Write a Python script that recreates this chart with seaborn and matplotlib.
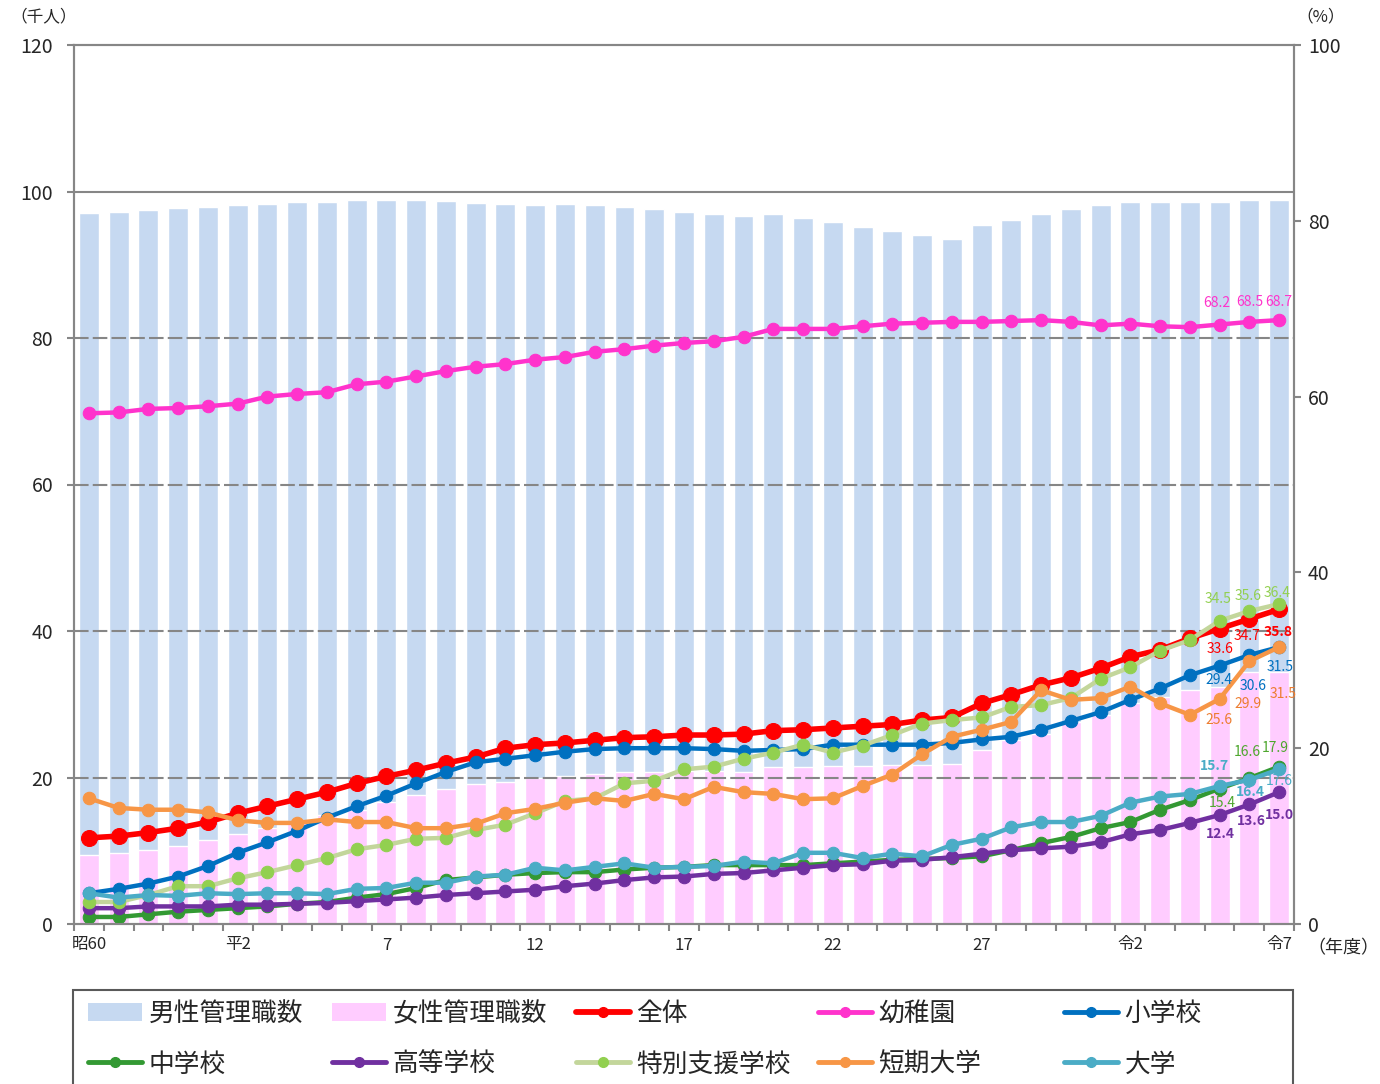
import numpy as np
import pandas as pd
import matplotlib
matplotlib.use('Agg')
import matplotlib.pyplot as plt
import seaborn as sns
from matplotlib.patches import Patch, Rectangle
from matplotlib.lines import Line2D

# 昭和60年度〜令和7年度 (41 years)
tick_pos = [0, 5, 10, 15, 20, 25, 30, 35, 40]
tick_labels = ['昭60', '平2', '7', '12', '17', '22', '27', '令2', '令7']

# managers, thousand people (left axis)
total = [97.1, 97.2, 97.5, 97.7, 97.9, 98.2, 98.3, 98.5, 98.6, 98.8, 98.8, 98.8, 98.7, 98.4,
         98.3, 98.2, 98.3, 98.2, 97.9, 97.6, 97.2, 96.9, 96.7, 96.9, 96.4, 95.8, 95.2, 94.6,
         94.1, 93.5, 95.4, 96.1, 96.9, 97.6, 98.2, 98.6, 98.6, 98.6, 98.6, 98.8, 98.8]
female = [9.4, 9.7, 10.1, 10.7, 11.4, 12.3, 13.1, 14.0, 14.9, 15.6, 16.7, 17.6, 18.4, 19.1,
          19.4, 19.9, 20.2, 20.5, 20.7, 20.8, 20.9, 20.9, 20.8, 21.5, 21.5, 21.6, 21.6, 21.7,
          21.7, 21.9, 23.8, 25.1, 26.0, 27.6, 28.5, 30.2, 31.0, 32.0, 32.3, 34.4, 34.4]

# female share of managers, % (right axis)
zentai = [9.8, 10.0, 10.4, 10.9, 11.6, 12.6, 13.4, 14.2, 15.0, 16.0, 16.8, 17.5, 18.3, 19.0,
          20.0, 20.4, 20.6, 20.9, 21.2, 21.3, 21.5, 21.5, 21.6, 22.0, 22.1, 22.3, 22.5, 22.7,
          23.2, 23.5, 25.1, 26.1, 27.2, 28.0, 29.1, 30.4, 31.2, 32.5, 33.6, 34.7, 35.8]
youchien = [58.1, 58.2, 58.6, 58.7, 58.9, 59.2, 60.0, 60.3, 60.5, 61.4, 61.7, 62.3, 62.9, 63.4,
            63.7, 64.2, 64.5, 65.1, 65.4, 65.8, 66.1, 66.3, 66.8, 67.7, 67.7, 67.7, 68.0, 68.3,
            68.4, 68.5, 68.5, 68.6, 68.7, 68.5, 68.1, 68.3, 68.0, 67.9, 68.2, 68.5, 68.7]
shougakkou = [3.5, 4.0, 4.6, 5.4, 6.6, 8.1, 9.3, 10.6, 12.1, 13.4, 14.6, 16.0, 17.3, 18.4,
              18.8, 19.2, 19.6, 19.9, 20.0, 20.0, 20.0, 19.9, 19.7, 19.8, 19.9, 20.4, 20.4, 20.4,
              20.4, 20.6, 21.0, 21.3, 22.1, 23.1, 24.1, 25.5, 26.8, 28.3, 29.4, 30.6, 31.5]
chuugakkou = [0.8, 0.8, 1.1, 1.4, 1.6, 1.8, 2.0, 2.3, 2.5, 3.0, 3.4, 4.1, 5.0, 5.3,
              5.6, 5.8, 5.9, 5.9, 6.2, 6.4, 6.5, 6.7, 6.7, 6.7, 6.7, 6.9, 7.1, 7.3,
              7.4, 7.5, 7.7, 8.4, 9.2, 9.9, 10.9, 11.6, 13.0, 14.1, 15.4, 16.6, 17.9]
koutougakkou = [1.8, 1.8, 2.0, 2.0, 2.0, 2.2, 2.2, 2.3, 2.4, 2.6, 2.8, 3.0, 3.3, 3.5,
                3.7, 3.9, 4.3, 4.6, 5.0, 5.3, 5.4, 5.7, 5.8, 6.1, 6.4, 6.7, 6.8, 7.2,
                7.3, 7.6, 8.0, 8.4, 8.6, 8.8, 9.3, 10.2, 10.7, 11.5, 12.4, 13.6, 15.0]
tokubetsu = [2.5, 2.5, 3.3, 4.3, 4.3, 5.2, 5.9, 6.7, 7.5, 8.5, 9.0, 9.7, 9.8, 10.7,
             11.3, 12.6, 14.0, 14.3, 16.0, 16.3, 17.6, 17.9, 18.8, 19.5, 20.4, 19.5, 20.3, 21.5,
             22.8, 23.2, 23.5, 24.7, 24.9, 25.7, 27.9, 29.2, 31.1, 32.3, 34.5, 35.6, 36.4]
tanki = [14.3, 13.2, 13.0, 13.0, 12.7, 11.8, 11.5, 11.5, 11.9, 11.6, 11.6, 10.9, 10.9, 11.4,
         12.6, 13.1, 13.8, 14.3, 14.0, 14.8, 14.2, 15.6, 15.0, 14.8, 14.2, 14.3, 15.7, 17.0,
         19.3, 21.3, 22.1, 23.0, 26.6, 25.5, 25.7, 27.0, 25.1, 23.8, 25.6, 29.9, 31.5]
daigaku = [3.5, 3.0, 3.3, 3.2, 3.5, 3.4, 3.5, 3.5, 3.4, 4.0, 4.1, 4.7, 4.7, 5.4,
           5.6, 6.4, 6.1, 6.5, 6.9, 6.4, 6.5, 6.6, 7.1, 6.9, 8.1, 8.1, 7.5, 8.0,
           7.7, 9.0, 9.7, 11.0, 11.6, 11.6, 12.3, 13.8, 14.5, 14.8, 15.7, 16.4, 17.6]

W, H = 1380, 1084
sns.set_style('white')
plt.rcParams['font.family'] = ['Noto Sans CJK JP', 'DejaVu Sans']
GRAY = '#868686'

fig = plt.figure(figsize=(W / 100, H / 100), dpi=100)
ax = fig.add_axes([74 / W, 1 - 924 / H, (1294 - 74) / W, (924 - 45) / H])

idx = np.arange(len(total))
df = pd.DataFrame({'idx': idx, 'total': total, 'female': female})
sns.barplot(data=df, x='idx', y='total', color='#C6D9F1', saturation=1, width=0.67, ax=ax)
sns.barplot(data=df, x='idx', y='female', color='#FFCCFF', saturation=1, width=0.67, ax=ax)
ax.set_ylim(0, 120)
ax.set_xlim(-0.5, 40.5)
ax.set(xlabel='', ylabel='')

for v in [20, 40, 60, 80]:
    ax.axhline(v, color=GRAY, lw=1.5, ls=(0, (7, 2)), zorder=2.5)
ax.axhline(100, color=GRAY, lw=1.5, zorder=2.5)

ax.set_yticks(range(0, 121, 20))
ax.tick_params(axis='y', direction='out', length=5, width=1.5, color=GRAY,
               labelsize=14, pad=10, left=True)
ax.set_xticks(tick_pos)
ax.set_xticklabels(tick_labels)
ax.set_xticks(np.arange(-0.5, 41, 1), minor=True)
ax.tick_params(axis='x', which='major', length=0, labelsize=12, pad=9)
ax.tick_params(axis='x', which='minor', direction='out', length=5, width=1.5,
               color=GRAY, bottom=True)

ax2 = ax.twinx()
series = [
    ('全体', zentai, '#FF0000', '#FF0000', 4.0, 11.5, '#FF0000'),
    ('幼稚園', youchien, '#FF33CC', '#FF33CC', 3.2, 9, '#FF33CC'),
    ('小学校', shougakkou, '#0070C0', '#0070C0', 3.2, 9, '#0070C0'),
    ('中学校', chuugakkou, '#339933', '#339933', 3.2, 9, '#4EA72E'),
    ('高等学校', koutougakkou, '#7030A0', '#7030A0', 3.2, 9, '#7030A0'),
    ('特別支援学校', tokubetsu, '#C3D69B', '#92D050', 3.2, 9, '#92D050'),
    ('短期大学', tanki, '#F79646', '#F79646', 3.2, 9, '#ED7D31'),
    ('大学', daigaku, '#4BACC6', '#4BACC6', 3.2, 9, '#4BACC6'),
]
for name, vals, lc, mc, lw, ms, tc in series:
    sns.lineplot(x=idx, y=vals, ax=ax2, color=lc, lw=lw, marker='o', markersize=ms,
                 markerfacecolor=mc, markeredgecolor=mc, legend=False)
ax2.set_ylim(0, 100)
ax2.set_xlim(-0.5, 40.5)
ax2.set(xlabel='', ylabel='')
ax2.set_yticks(range(0, 101, 20))
ax2.tick_params(axis='y', direction='out', length=5, width=1.5, color=GRAY,
                labelsize=14, pad=5, right=True)

# data labels for the last three years (pixel offsets from the point)
label_off = {
    '全体': [(0, -20), (-2, -17), (-1, -23)],
    '幼稚園': [(-3, 22), (0, 20), (0, 18)],
    '小学校': [(-1, -14), (4, -31), (1, -20)],
    '中学校': [(3, -14), (-2, 26), (-4, 19)],
    '高等学校': [(1, -19), (2, -17), (0, -23)],
    '特別支援学校': [(-2, 22), (-1, 15), (-2, 11)],
    '短期大学': [(-1, -21), (-1, -43), (4, -47)],
    '大学': [(-5, 20), (1, -12), (0, -12)],
}
bold = {('全体', 40), ('大学', 38), ('大学', 39),
        ('高等学校', 38), ('高等学校', 39), ('高等学校', 40)}
for name, vals, lc, mc, lw, ms, tc in series:
    for j, k in enumerate([38, 39, 40]):
        ax2.annotate(f'{vals[k]:.1f}', xy=(k, vals[k]), xytext=label_off[name][j],
                     textcoords='offset pixels', ha='center', va='center', color=tc,
                     fontsize=10, fontweight='bold' if (name, k) in bold else 'normal',
                     zorder=10)

for a in (ax, ax2):
    for s in a.spines.values():
        s.set_color(GRAY)
        s.set_linewidth(1.5)

fig.text(10 / W, 1 - 17 / H, '（千人）', fontsize=12, va='center', ha='left')
fig.text(1345 / W, 1 - 17 / H, '（%）', fontsize=12, va='center', ha='right')
fig.text(1307 / W, 1 - 948 / H, '（年度）', fontsize=13, va='center', ha='left')

# legend: five columns of two entries, inside one frame
def line_handle(lc, mc, lw):
    return Line2D([], [], color=lc, lw=lw, marker='o', markersize=7,
                  markerfacecolor=mc, markeredgecolor=mc)

h = {
    '男性管理職数': Patch(facecolor='#C6D9F1', edgecolor='none'),
    '女性管理職数': Patch(facecolor='#FFCCFF', edgecolor='none'),
}
for name, vals, lc, mc, lw, ms, tc in series:
    h[name] = line_handle(lc, mc, 4.2 if name == '全体' else 3.5)

columns = [('男性管理職数', '中学校'), ('女性管理職数', '高等学校'), ('全体', '特別支援学校'),
           ('幼稚園', '短期大学'), ('小学校', '大学')]
col_x = [88, 332, 576, 818, 1064]
for cx, names in zip(col_x, columns):
    leg = fig.legend([h[n] for n in names], list(names), loc='upper left',
                     bbox_to_anchor=(cx / W, 1 - 1001 / H), frameon=False,
                     fontsize=18.5, handlelength=2.1, handleheight=0.7,
                     handletextpad=0.25, labelspacing=0.95, borderpad=0,
                     borderaxespad=0)
fig.add_artist(Rectangle((73 / W, -0.02), (1293 - 73) / W, 1 - 990 / H + 0.02,
                         transform=fig.transFigure, fill=False, edgecolor='#595959',
                         lw=1.5))

fig.savefig('out.png', dpi=100)
